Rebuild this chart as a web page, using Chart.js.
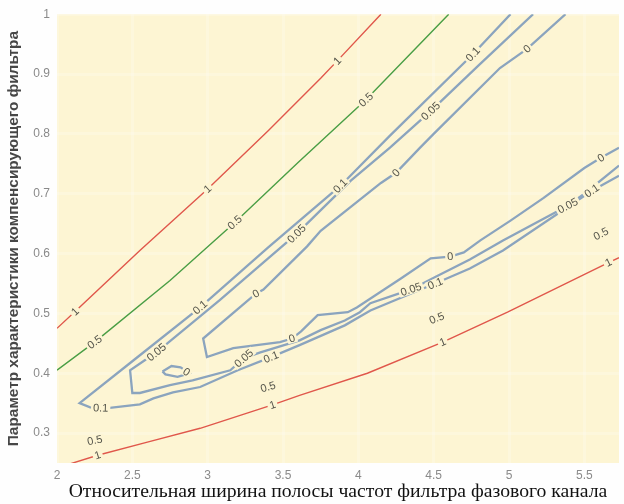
<!DOCTYPE html>
<html>
<head>
<meta charset="utf-8">
<style>
  html, body { margin: 0; padding: 0; background: #fefefe; }
  canvas { display: block; }
</style>
<script src="https://cdn.jsdelivr.net/npm/chart.js@4.4.1/dist/chart.umd.min.js"></script>
</head>
<body>
<canvas id="c" width="624" height="504"></canvas>
<script>
// Axis ticks
const xTicks = [2, 2.5, 3, 3.5, 4, 4.5, 5, 5.5];
const yTicks = [0.3, 0.4, 0.5, 0.6, 0.7, 0.8, 0.9, 1];

// Contour lines as [x, y] paths
const level1Upper = [[2.0,0.475],[2.12,0.503],[2.55,0.605],[3.0,0.708],[3.4,0.805],[3.75,0.893],[3.86,0.922],[4.15,1.0]];
const level05Upper = [[2.0,0.405],[2.25,0.452],[2.75,0.555],[3.18,0.652],[3.6,0.752],[4.05,0.857],[4.6,1.0]];
const level1Lower = [[2.08,0.248],[2.27,0.263],[2.6,0.285],[2.95,0.308],[3.43,0.347],[3.61,0.363],[4.06,0.4],[4.56,0.452],[4.99,0.502],[5.66,0.585],[5.73,0.593]];
const level05Lower = [[2.0,0.275],[2.25,0.288],[3.4,0.377],[4.52,0.492],[5.61,0.633],[5.73,0.65]];
const level01 = [[5.01,1.0],[4.76,0.933],[4.21,0.797],[3.88,0.713],[3.4,0.61],[2.95,0.51],[2.5,0.42],[2.15,0.35],
  [2.22,0.343],[2.35,0.342],[2.55,0.348],[2.64,0.358],[2.77,0.368],[2.95,0.377],[3.2,0.405],[3.42,0.427],
  [3.61,0.447],[3.91,0.48],[4.08,0.505],[4.51,0.55],[4.74,0.575],[4.96,0.605],[5.55,0.705],[5.73,0.73]];
const level005 = [[5.16,1.0],[4.8,0.915],[4.48,0.838],[4.21,0.777],[3.95,0.722],[3.59,0.633],[3.08,0.522],[2.66,0.435],[2.485,0.405],
  [2.5,0.367],[2.55,0.367],[2.75,0.38],[2.9,0.388],[3.15,0.405],[3.24,0.425],[3.35,0.435],[3.61,0.455],[3.75,0.472],
  [3.91,0.488],[4.01,0.502],[4.08,0.517],[4.35,0.54],[4.52,0.562],[4.74,0.59],[4.96,0.622],[5.39,0.68],[5.5,0.7],[5.73,0.747]];
const level0 = [[5.375,1.0],[5.12,0.942],[4.94,0.91],[4.5,0.8],[4.41,0.777],[4.25,0.735],[4.15,0.718],[3.75,0.638],[3.66,0.612],
  [3.37,0.54],[3.32,0.533],[2.97,0.458],[2.995,0.427],[3.17,0.442],[3.48,0.452],[3.56,0.458],[3.62,0.47],[3.73,0.497],
  [3.93,0.502],[3.99,0.51],[4.28,0.558],[4.48,0.592],[4.61,0.595],[4.7,0.602],[4.81,0.622],[5.01,0.655],[5.23,0.693],
  [5.5,0.743],[5.61,0.76],[5.73,0.777]];
const level0Island = [[2.7,0.403],[2.76,0.412],[2.82,0.41],[2.88,0.4],[2.8,0.394],[2.72,0.398],[2.7,0.403]];

// Where each contour carries its value
const labels1Upper = [[2.12,0.503],[3.0,0.708],[3.86,0.922]];
const labels05Upper = [[2.25,0.452],[3.18,0.652],[4.05,0.857]];
const labels1Lower = [[2.27,0.263],[3.43,0.347],[4.56,0.452],[5.66,0.585]];
const labels05Lower = [[2.25,0.288],[3.4,0.377],[4.52,0.492],[5.61,0.633]];
const labels01 = [[4.76,0.933],[3.88,0.713],[2.95,0.51],[2.29,0.342],[3.42,0.427],[4.51,0.55],[5.55,0.705]];
const labels005 = [[4.48,0.838],[3.59,0.633],[2.66,0.435],[3.24,0.425],[4.35,0.54],[5.39,0.68]];
const labels0 = [[5.12,0.942],[4.25,0.735],[3.32,0.533],[3.56,0.458],[4.61,0.595],[5.61,0.76]];
const labels0Island = [[2.86,0.402]];

const PLOT_BG = '#fdf5d3';
const RED = '#e0574b';
const GREEN = '#4a9e45';
const BLUE_OUT = '#8ba4be';
const BLUE_IN = '#d9eef6';
const SANS = '"Liberation Sans", Arial, sans-serif';

const pts = a => a.map(([x, y]) => ({x, y}));
const line = (data, color, width) => ({
  data: pts(data), borderColor: color, borderWidth: width, showLine: true,
  pointRadius: 0, fill: false, tension: 0
});

const datasets = [
  line(level1Upper, RED, 1.4),
  line(level05Upper, GREEN, 1.4),
  line(level1Lower, RED, 1.4),
  line(level05Lower, 'rgba(0,0,0,0)', 0),
  line(level01, BLUE_OUT, 2.3), line(level01, BLUE_IN, 0.8),
  line(level005, BLUE_OUT, 2.3), line(level005, BLUE_IN, 0.8),
  line(level0, BLUE_OUT, 2.3), line(level0, BLUE_IN, 0.8),
  line(level0Island, BLUE_OUT, 2.3), line(level0Island, BLUE_IN, 0.8)
];

const labelGroups = [
  {text: '1', path: level1Upper, at: labels1Upper},
  {text: '0.5', path: level05Upper, at: labels05Upper},
  {text: '1', path: level1Lower, at: labels1Lower},
  {text: '0.5', path: level05Lower, at: labels05Lower},
  {text: '0.1', path: level01, at: labels01},
  {text: '0.05', path: level005, at: labels005},
  {text: '0', path: level0, at: labels0},
  {text: '0', path: level0Island, at: labels0Island}
];

// Fill the plot area
const plotBackground = {
  id: 'plotBackground',
  beforeDraw(chart) {
    const {ctx, chartArea: a} = chart;
    ctx.save();
    ctx.fillStyle = PLOT_BG;
    ctx.fillRect(a.left, a.top, a.right - a.left, a.bottom - a.top);
    ctx.restore();
  }
};

// Inline contour value labels, rotated along the line, with a gap cut in the line
const contourLabels = {
  id: 'contourLabels',
  afterDatasetsDraw(chart) {
    const {ctx, chartArea: a} = chart;
    const xs = chart.scales.x, ys = chart.scales.y;
    ctx.save();
    ctx.beginPath();
    ctx.rect(a.left, a.top, a.right - a.left, a.bottom - a.top);
    ctx.clip();
    ctx.font = '11px ' + SANS;
    ctx.textAlign = 'center';
    ctx.textBaseline = 'middle';
    for (const g of labelGroups) {
      const pp = g.path.map(([x, y]) => [xs.getPixelForValue(x), ys.getPixelForValue(y)]);
      for (const [lx, ly] of g.at) {
        const px = xs.getPixelForValue(lx), py = ys.getPixelForValue(ly);
        let best = Infinity, ang = 0;
        for (let i = 0; i < pp.length - 1; i++) {
          const [x1, y1] = pp[i], [x2, y2] = pp[i + 1];
          const dx = x2 - x1, dy = y2 - y1;
          const len2 = dx * dx + dy * dy || 1;
          let t = ((px - x1) * dx + (py - y1) * dy) / len2;
          t = Math.max(0, Math.min(1, t));
          const cx = x1 + t * dx, cy = y1 + t * dy;
          const d = (px - cx) ** 2 + (py - cy) ** 2;
          if (d < best) { best = d; ang = Math.atan2(dy, dx); }
        }
        if (ang > Math.PI / 2) ang -= Math.PI;
        if (ang < -Math.PI / 2) ang += Math.PI;
        const w = ctx.measureText(g.text).width;
        ctx.save();
        ctx.translate(px, py);
        ctx.rotate(ang);
        ctx.fillStyle = PLOT_BG;
        ctx.fillRect(-w / 2 - 2, -4.5, w + 4, 9);
        ctx.fillStyle = '#54544a';
        ctx.fillText(g.text, 0, 0.5);
        ctx.restore();
      }
    }
    ctx.restore();
  }
};

new Chart(document.getElementById('c'), {
  type: 'scatter',
  data: {datasets},
  options: {
    responsive: false,
    animation: false,
    devicePixelRatio: 1,
    layout: {padding: {top: 13, right: 5, left: 0, bottom: 0}},
    plugins: {legend: {display: false}, tooltip: {enabled: false}},
    scales: {
      x: {
        type: 'linear', min: 2, max: 5.73,
        border: {display: false},
        grid: {color: 'rgba(255,255,255,0.22)', lineWidth: 3, drawTicks: false},
        afterBuildTicks: s => { s.ticks = xTicks.map(v => ({value: v})); },
        afterFit: s => { s.height = 41; },
        ticks: {padding: 5, color: '#8a8a8a', font: {family: SANS, size: 12}, maxRotation: 0, autoSkip: false,
                callback: v => String(v)},
        title: {display: true, text: 'Относительная ширина полосы частот фильтра фазового канала',
                color: '#111', font: {family: '"Liberation Serif", "Times New Roman", serif', size: 19.7},
                padding: {top: 4, bottom: 0}}
      },
      y: {
        type: 'linear', min: 0.25, max: 1,
        border: {display: false},
        grid: {color: 'rgba(255,255,255,0.22)', lineWidth: 3, drawTicks: false},
        afterBuildTicks: s => { s.ticks = yTicks.map(v => ({value: v})); },
        afterFit: s => { s.width = 57; },
        ticks: {padding: 7, color: '#8a8a8a', font: {family: SANS, size: 12}, autoSkip: false,
                callback: v => String(+Number(v).toFixed(2))},
        title: {display: true, text: 'Параметр характеристики компенсирующего фильтра',
                color: '#474747', font: {family: SANS, size: 15.4, weight: 'bold'},
                padding: {top: 5, bottom: 0}}
      }
    }
  },
  plugins: [plotBackground, contourLabels]
});
</script>
</body>
</html>
